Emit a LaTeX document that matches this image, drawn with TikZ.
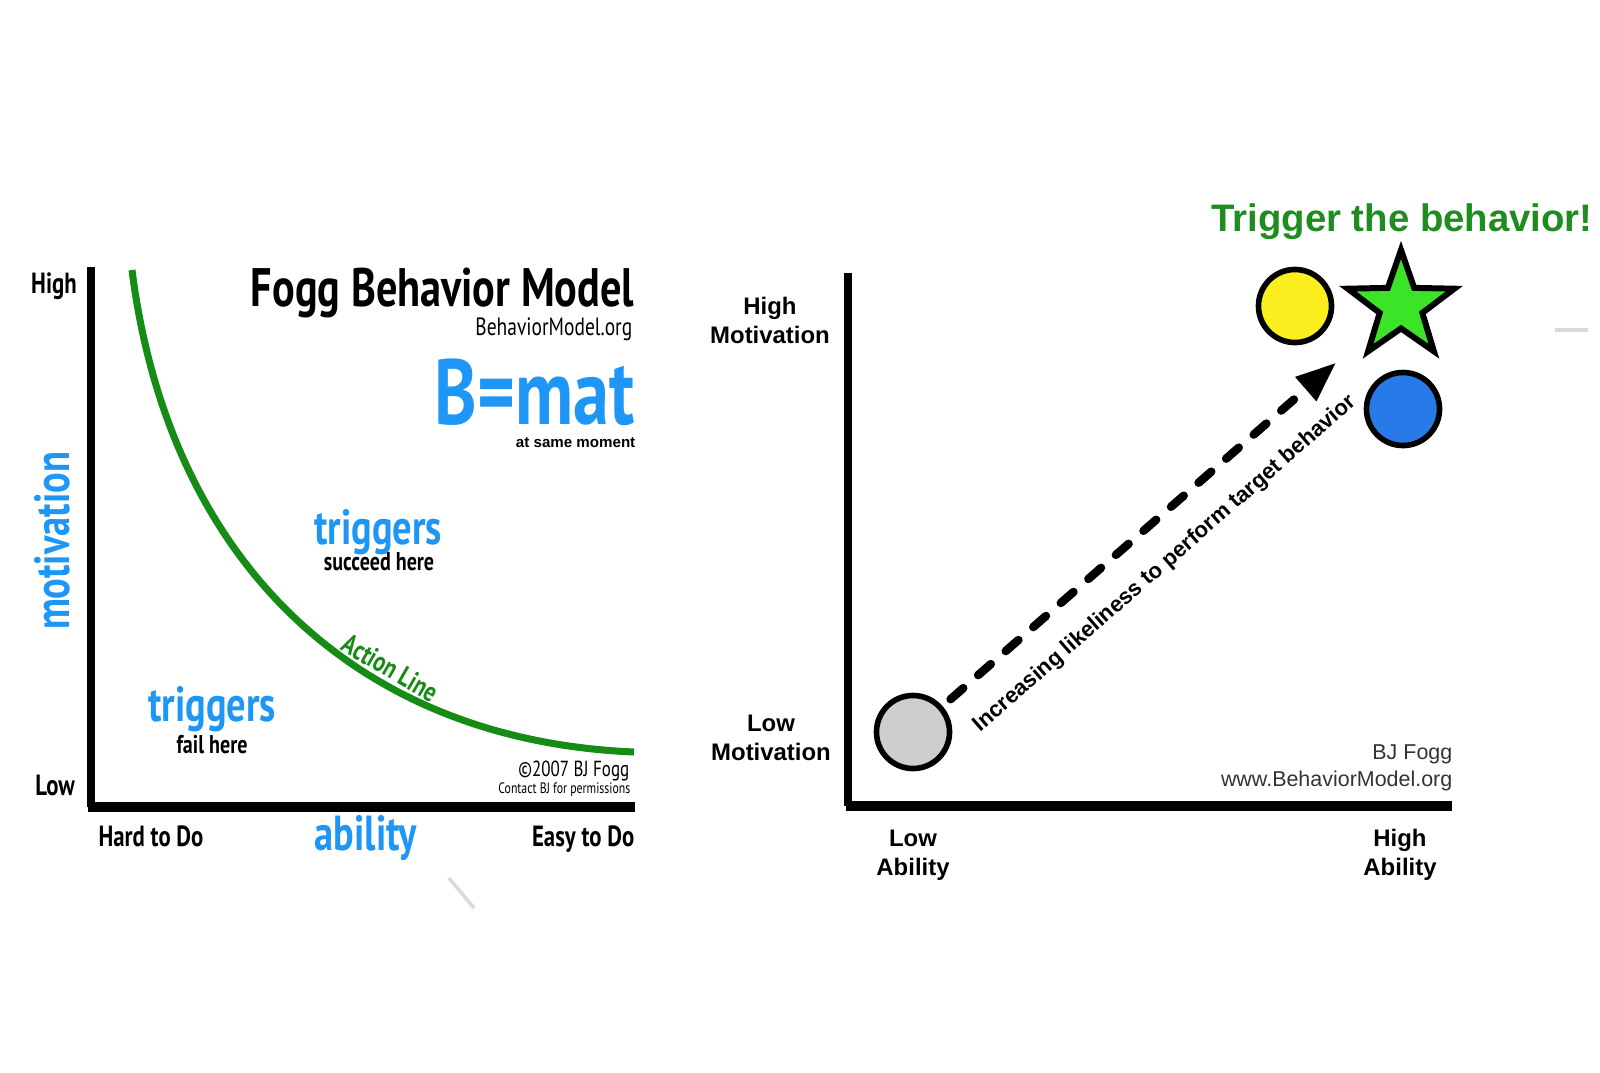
\documentclass[tikz,border=0pt]{standalone}
\usepackage{fontspec}
\setmainfont{Liberation Sans}
\newfontfamily\narrowsans[FakeStretch=0.78]{PT Sans}
\usepackage{xcolor}
\usetikzlibrary{positioning, shapes.geometric, arrows.meta, calc}
\definecolor{fbmblue}{RGB}{30,150,245}
\definecolor{actiongreen}{RGB}{22,140,22}
\definecolor{titlegreen}{RGB}{30,140,30}
\definecolor{stargreen}{RGB}{60,228,40}
\definecolor{dotyellow}{RGB}{250,238,30}
\definecolor{dotblue}{RGB}{40,122,232}
\definecolor{dotgray}{RGB}{206,206,206}
\newcommand{\fsz}[2]{\fontsize{#1}{#2}\selectfont}

\begin{document}
\begin{tikzpicture}[x=0.01cm, y=-0.01cm,
  fbmbold/.style={inner sep=0, font=\narrowsans\bfseries\fsz{8.3pt}{9pt}},
  bigblue/.style={inner sep=0, text=fbmblue, font=\narrowsans\bfseries\fsz{14pt}{16pt}},
  subnote/.style={inner sep=0, font=\narrowsans\bfseries\fsz{7.3pt}{8pt}},
  axislabel/.style={inner sep=0, align=center, font=\bfseries\fsz{6.8pt}{8.2pt}},
  dot/.style={circle, draw, line width=1.6pt, minimum size=0.73cm, inner sep=0},
  credit/.style={inner sep=0, anchor=base east, text=black!80, font=\fsz{6.1pt}{7pt}},
  trigarrow/.style={line width=2.4pt, line cap=round, dash pattern=on 4.8pt off 5.6pt,
                    -{Triangle[length=11.5pt, width=8.5pt]}}
]
  \useasboundingbox (0,0) rectangle (1600,1072);

  \draw[line width=2pt] (91,267) -- (91,807);
  \draw[line width=2.6pt] (88,807) -- (635,807);
  \draw[line width=2pt, actiongreen] (132,270) .. controls (168,555) and (350,740) .. (634,752)
    node[pos=0.66, sloped, above=1pt, inner sep=0, text=actiongreen,
         font=\narrowsans\bfseries\fsz{8pt}{9pt}] (action) {Action Line};
  \node[fbmbold] (high) at (54,286) {High};
  \node[fbmbold] (low) at (55,785) {Low};
  \node[anchor=base east, inner sep=0, font=\narrowsans\bfseries\fsz{15.4pt}{17pt}] (title) at (635,306) {Fogg Behavior Model};
  \node[anchor=base east, inner sep=0, font=\narrowsans\fsz{7.1pt}{8pt}] (org) at (633,335) {BehaviorModel.org};
  \node[anchor=base east, inner sep=0, text=fbmblue, font=\narrowsans\bfseries\fsz{26.3pt}{28pt}] (bmat) at (635,424) {B=mat};
  \node[anchor=base east, inner sep=0, font=\bfseries\fsz{4.3pt}{5pt}] (moment) at (636,447) {at same moment};
  \node[bigblue, anchor=base] (trigok) at (378,544) {triggers};
  \node[subnote, anchor=base] (succeed) at (379,570) {succeed here};
  \node[bigblue, anchor=base] (trigfail) at (212,721) {triggers};
  \node[subnote, anchor=base] (fail) at (212,753) {fail here};
  \node[bigblue, anchor=base, rotate=90] (motivation) at (69,541) {motivation};
  \node[fbmbold, anchor=base] (hard) at (151,846) {Hard to Do};
  \node[bigblue, anchor=base] (ability) at (366,850) {ability};
  \node[fbmbold, anchor=base east] (easy) at (635,846) {Easy to Do};
  \node[anchor=base east, inner sep=0, font=\narrowsans\fsz{6.2pt}{7pt}] (copy) at (630,776) {©2007 BJ Fogg};
  \node[anchor=base east, inner sep=0, font=\narrowsans\fsz{4.3pt}{5pt}] (contact) at (631,793) {Contact BJ for permissions};
  \draw[black!15, line width=1pt] (449,878) -- (474,908);

  \draw[line width=2pt] (848,273) -- (848,806);
  \draw[line width=2.6pt] (846,806) -- (1452,806);
  \node[axislabel, anchor=base] (highmot) at (770,343) {High\\Motivation};
  \node[axislabel, anchor=base] (lowmot) at (771,760) {Low\\Motivation};
  \node[axislabel, anchor=base] (lowab) at (913,875) {Low\\Ability};
  \node[axislabel, anchor=base] (highab) at (1400,875) {High\\Ability};
  \node[dot, fill=dotgray] (start) at (913,732) {};
  \node[dot, fill=dotyellow] (yellow) at (1295,306) {};
  \node[dot, fill=dotblue] (blue) at (1403,409) {};
  \node[star, star points=5, star point ratio=2.5, draw, line width=1.7pt, fill=stargreen,
        minimum size=1.12cm, inner sep=0] (star) at (1401,306) {};
  \node[anchor=base, inner sep=0, text=titlegreen, font=\bfseries\fsz{10.9pt}{12pt}] (trigger) at (1402,231) {Trigger the behavior!};
  \draw[trigarrow, shorten <=3pt, shorten >=13pt] (start) -- node[pos=0.46, sloped, below=7pt, inner sep=0,
        font=\bfseries\fsz{6.3pt}{7pt}] (likely) {Increasing likeliness to perform target behavior} (star);
  \node[credit] (bjfogg) at (1453,759) {BJ Fogg};
  \node[credit] (site) at (1453,786) {www.BehaviorModel.org};
  \draw[black!15, line width=1pt] (1555,330) -- (1588,330);
\end{tikzpicture}
\end{document}
